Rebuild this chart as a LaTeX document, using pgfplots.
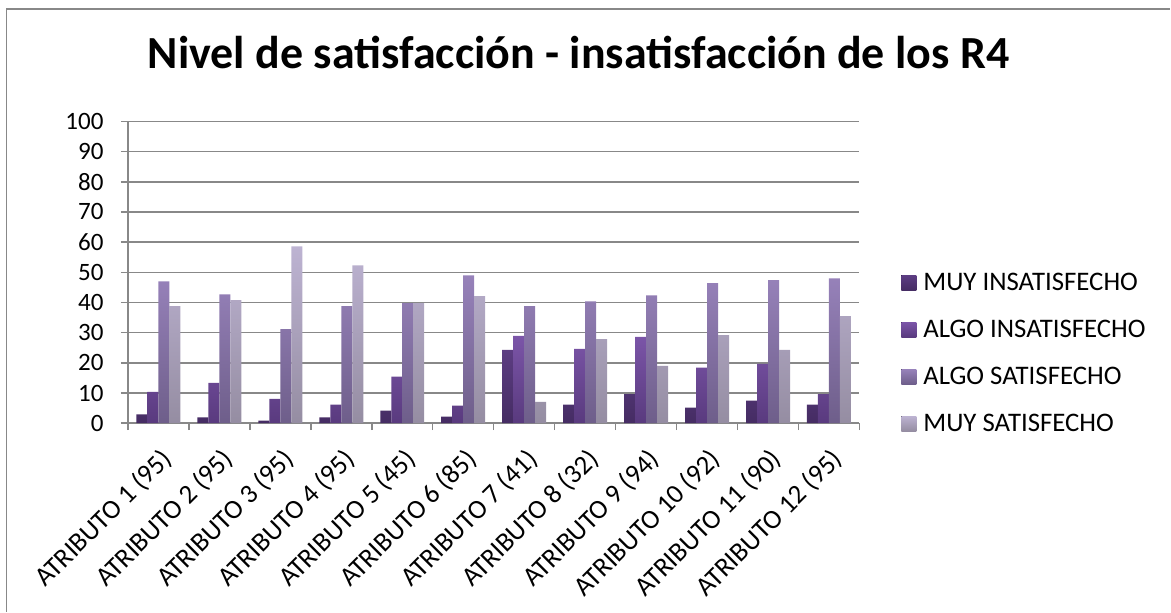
\documentclass[border=0pt]{standalone}
\usepackage{pgfplots}
\pgfplotsset{compat=1.18}
\usepackage{fontspec}
\setmainfont{Carlito}
\definecolor{gridg}{HTML}{888888}
\definecolor{c1t}{HTML}{5C3D82}\definecolor{c1b}{HTML}{452C63}
\definecolor{c2t}{HTML}{7B55A8}\definecolor{c2b}{HTML}{593A7E}
\definecolor{c3t}{HTML}{9782BA}\definecolor{c3b}{HTML}{6E5E8A}
\definecolor{c4t}{HTML}{BDB3D2}\definecolor{c4b}{HTML}{958DA2}
\begin{document}
\begin{tikzpicture}[x=1bp,y=1bp]
\path (0,0) rectangle (1171,612);
\draw[gridg, line width=1.5bp] (6.5,0) -- (6.5,603) -- (1171,603);
\node[anchor=base, font=\fontsize{46bp}{52bp}\selectfont\bfseries] at (579,543) {Nivel de satisfacción - insatisfacción de los R4};
\begin{axis}[
  at={(128bp,188.5bp)}, anchor=south west,
  scale only axis, width=732bp, height=302bp,
  ymin=0, ymax=100, ytick={0,10,...,100},
  xmin=-0.5, xmax=11.5,
  xtick={0,...,11},
  xticklabels={ATRIBUTO 1 (95),ATRIBUTO 2 (95),ATRIBUTO 3 (95),ATRIBUTO 4 (95),ATRIBUTO 5 (45),ATRIBUTO 6 (85),ATRIBUTO 7 (41),ATRIBUTO 8 (32),ATRIBUTO 9 (94),ATRIBUTO 10 (92),ATRIBUTO 11 (90),ATRIBUTO 12 (95)},
  minor xtick={-0.5,0.5,...,11.5},
  major x tick style={draw=none},
  minor tick length=7bp,
  major tick length=7bp,
  tick align=outside,
  tick pos=left,
  xtick pos=bottom, ytick pos=left,
  axis x line*=bottom, axis y line*=left,
  axis line style={gridg, line width=1.5bp},
  tick style={gridg, line width=1.5bp},
  ymajorgrids, grid style={gridg, line width=1.5bp},
  /pgf/number format/assume math mode=true,
  yticklabel style={font=\fontsize{25bp}{28bp}\selectfont, xshift=-14bp},
  xticklabel style={font=\fontsize{27bp}{30bp}\selectfont, rotate=45, anchor=north east, inner sep=2bp, xshift=-9bp, yshift=-10bp},
  ybar=0pt, bar width=11bp,
  legend style={at={(1.057,0.50)}, anchor=north west, draw=none, fill=none,
     font=\fontsize{26.8bp}{30bp}\selectfont, row sep=26bp, inner sep=0pt,
     nodes={inner sep=1bp}},
  legend cell align=left,
  legend image code/.code={\fill[#1] (0bp,-7.5bp) rectangle (15bp,7.5bp); \path (21bp,0bp);},
  clip=false,
]
\addplot[draw=none, top color=c1t, bottom color=c1b] coordinates {(0,2.9) (1,1.9) (2,0.9) (3,1.9) (4,4.2) (5,2.2) (6,24.3) (7,6.2) (8,9.6) (9,5.2) (10,7.5) (11,6.2)};
\addplot[draw=none, top color=c2t, bottom color=c2b] coordinates {(0,10.4) (1,13.4) (2,8.1) (3,6.2) (4,15.4) (5,5.8) (6,28.9) (7,24.6) (8,28.6) (9,18.4) (10,19.7) (11,9.6)};
\addplot[draw=none, top color=c3t, bottom color=c3b] coordinates {(0,47.0) (1,42.7) (2,31.2) (3,38.8) (4,39.8) (5,49.0) (6,38.8) (7,40.4) (8,42.4) (9,46.4) (10,47.4) (11,48.0)};
\addplot[draw=none, top color=c4t, bottom color=c4b] coordinates {(0,38.8) (1,40.8) (2,58.6) (3,52.3) (4,39.8) (5,42.1) (6,7.1) (7,27.9) (8,19.0) (9,29.2) (10,24.3) (11,35.5)};
\legend{MUY INSATISFECHO, ALGO INSATISFECHO, ALGO SATISFECHO, MUY SATISFECHO}
\end{axis}
\end{tikzpicture}
\end{document}
